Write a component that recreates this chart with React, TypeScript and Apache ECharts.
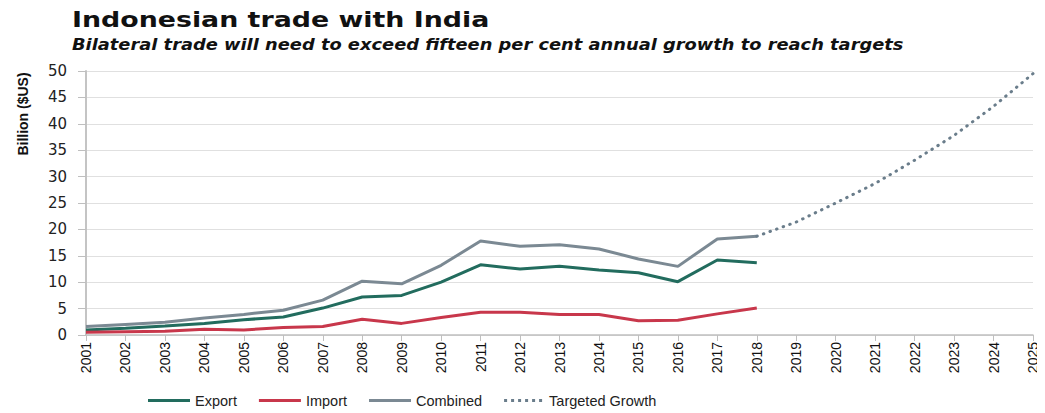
import React, { useEffect, useRef } from "react";
import * as echarts from "echarts";

const years = [
  "2001", "2002", "2003", "2004", "2005", "2006", "2007", "2008", "2009", "2010", "2011", "2012", "2013",
  "2014", "2015", "2016", "2017", "2018", "2019", "2020", "2021", "2022", "2023", "2024", "2025",
];
const exportVals = [0.95, 1.3, 1.7, 2.2, 2.9, 3.4, 5.1, 7.2, 7.5, 10.0, 13.3, 12.5, 13.0, 12.3, 11.8, 10.1, 14.2, 13.7];
const importVals = [0.5, 0.6, 0.7, 1.1, 0.95, 1.4, 1.6, 3.0, 2.2, 3.3, 4.3, 4.3, 3.9, 3.9, 2.7, 2.8, 4.0, 5.1];
const combinedVals = [1.6, 2.0, 2.4, 3.2, 3.9, 4.7, 6.6, 10.2, 9.7, 13.2, 17.8, 16.8, 17.1, 16.3, 14.4, 13.0, 18.2, 18.7];
const targetYears = ["2018", "2019", "2020", "2021", "2022", "2023", "2024", "2025"];
const targetVals = [18.7, 21.4, 25.0, 28.7, 33.1, 37.8, 43.3, 49.5];
const yTicks = { min: 0, max: 50, interval: 5 };

const titleText = "Indonesian trade with India";
const subtitleText = "Bilateral trade will need to exceed fifteen per cent annual growth to reach targets";
const yName = "Billion ($US)";

const dotIcon =
  "path://M0,0h3v3h-3zM7,0h3v3h-3zM14,0h3v3h-3zM21,0h3v3h-3zM28,0h3v3h-3zM35,0h3v3h-3z";

export default function App() {
  const ref = useRef<HTMLDivElement>(null);
  useEffect(() => {
    if (!ref.current) return;
    const chart = echarts.init(ref.current, undefined, { renderer: "svg" });
    const targetSeries = years.map((y) => {
      const i = targetYears.indexOf(y);
      return i >= 0 ? targetVals[i] : null;
    });
    chart.setOption({
      animation: false,
      backgroundColor: "#ffffff",
      graphic: [
        {
          type: "text",
          x: 72,
          y: 8,
          scaleX: 1.22,
          style: {
            text: titleText,
            font: "bold 22px 'DejaVu Sans'",
            fill: "#111111",
          },
        },
        {
          type: "text",
          x: 72,
          y: 37,
          scaleX: 1.19,
          style: {
            text: subtitleText,
            font: "italic bold 15px 'DejaVu Sans'",
            fill: "#111111",
          },
        },
        {
          type: "text",
          x: 23,
          y: 114,
          rotation: Math.PI / 2,
          style: {
            text: yName,
            font: "bold 14px 'Liberation Sans'",
            fill: "#111111",
            align: "center",
            verticalAlign: "middle",
          },
        },
      ],
      legend: {
        left: 143,
        top: 388,
        itemWidth: 42,
        itemHeight: 3,
        itemGap: 22,
        textStyle: { fontFamily: "Liberation Sans", fontSize: 14.5, color: "#222222" },
        data: [
          { name: "Export", icon: "rect" },
          { name: "Import", icon: "rect" },
          { name: "Combined", icon: "rect" },
          { name: "Targeted Growth", icon: dotIcon },
        ],
      },
      grid: { left: 86, right: 12, top: 71, bottom: 78, containLabel: false },
      xAxis: {
        type: "category",
        data: years,
        boundaryGap: false,
        axisLine: { show: true, lineStyle: { color: "#bfbfbf", width: 1.5 } },
        axisTick: { show: true, alignWithLabel: true, length: 6, lineStyle: { color: "#bfbfbf" } },
        axisLabel: {
          rotate: 90,
          margin: 7,
          fontFamily: "Liberation Sans",
          fontSize: 14,
          color: "#111111",
          interval: 0,
        },
        splitLine: { show: false },
      },
      yAxis: {
        type: "value",
        min: yTicks.min,
        max: yTicks.max,
        interval: yTicks.interval,
        axisLine: { show: true, lineStyle: { color: "#c4c4c4", width: 2 } },
        axisTick: { show: true, length: 8, lineStyle: { color: "#bfbfbf" } },
        axisLabel: {
          margin: 19,
          fontFamily: "DejaVu Sans",
          fontSize: 15,
          color: "#222222",
        },
        splitLine: { show: true, lineStyle: { color: "#e0e0e0", width: 1 } },
      },
      series: [
        {
          name: "Export",
          type: "line",
          data: exportVals,
          symbol: "none",
          color: "#226c5e",
          lineStyle: { width: 3, color: "#226c5e" },
        },
        {
          name: "Import",
          type: "line",
          data: importVals,
          symbol: "none",
          color: "#c8374b",
          lineStyle: { width: 3, color: "#c8374b" },
        },
        {
          name: "Combined",
          type: "line",
          data: combinedVals,
          symbol: "none",
          color: "#7b8993",
          lineStyle: { width: 3, color: "#7b8993" },
        },
        {
          name: "Targeted Growth",
          type: "line",
          data: targetSeries,
          symbol: "none",
          color: "#6a7d8b",
          lineStyle: { width: 3, color: "#6a7d8b", type: [0.5, 6.5], cap: "round" },
        },
      ],
    });
    return () => chart.dispose();
  }, []);
  return <div ref={ref} style={{ width: 1045, height: 413, marginLeft: -8, marginTop: -8 }} />;
}
